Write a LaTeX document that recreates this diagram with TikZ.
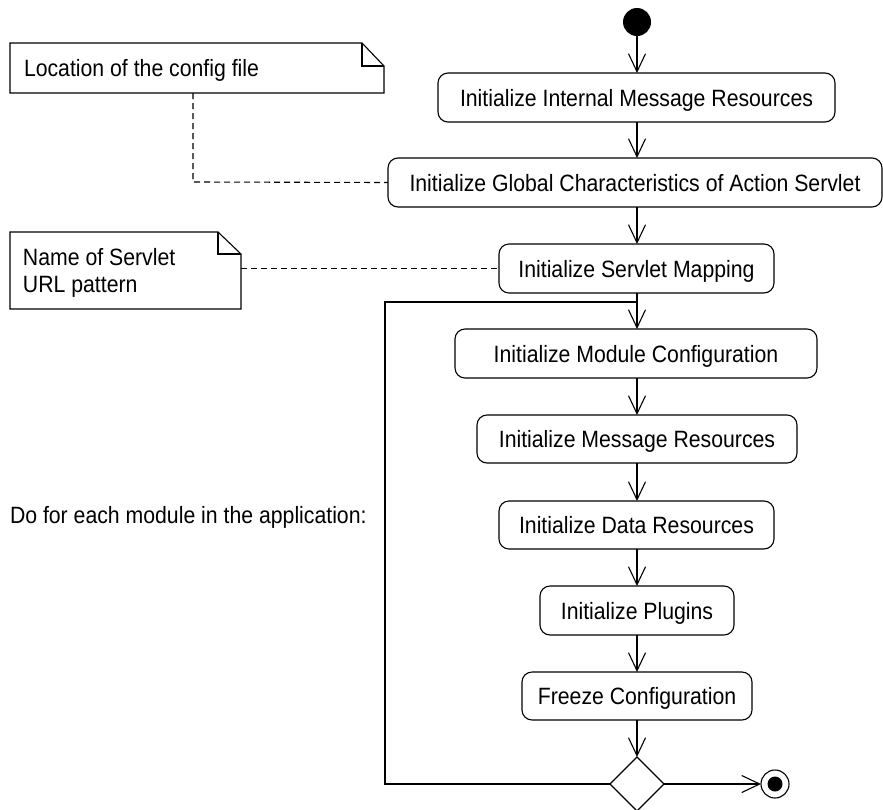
\documentclass[tikz,border=0pt]{standalone}
\usepackage{fontspec}
\setmainfont{Liberation Sans}[FakeStretch=0.9]
\usetikzlibrary{arrows.meta,shapes.geometric}
\begin{document}
\begin{tikzpicture}[x=1pt,y=-1pt,
  font=\fontsize{23.6pt}{27pt}\selectfont,
  every node/.style={inner sep=0pt, outer sep=0pt},
  act/.style={draw, rounded corners=10pt, line width=1.1pt, text height=17pt, text depth=0pt, minimum height=49pt},
  flow/.style={line width=1.1pt},
  arr/.style={flow, -{Straight Barb[length=18pt,width=17pt,line width=1.1pt]}},
  notelink/.style={line width=1.1pt, dash pattern=on 6pt off 4pt},
  noteline/.style={line width=1.1pt}
]
\useasboundingbox (0,0) rectangle (883,809);

% start
\node[circle, fill=black, minimum size=28pt] (start) at (637,22) {};

% activities
\node[act, minimum width=397pt] (b1) at (636.5,97.5) {Initialize Internal Message Resources};
\node[act, minimum width=494pt] (b2) at (635,182.5) {Initialize Global Characteristics of Action Servlet};
\node[act, minimum width=275pt] (b3) at (636.5,268.5) {Initialize Servlet Mapping};
\node[act, minimum width=362pt] (b4) at (636,353.5) {Initialize Module Configuration};
\node[act, minimum width=320pt, minimum height=48pt] (b5) at (637,439) {Initialize Message Resources};
\node[act, minimum width=275pt, minimum height=48pt] (b6) at (636.5,525) {Initialize Data Resources};
\node[act, minimum width=194pt] (b7) at (637,610.5) {Initialize Plugins};
\node[act, minimum width=230pt, minimum height=48pt] (b8) at (637,696) {Freeze Configuration};

% decision and final
\node[diamond, draw, line width=1.1pt, minimum width=54pt, minimum height=54pt] (dia) at (637,784) {};
\node[circle, draw, line width=1.1pt, minimum size=28pt,
      path picture={\fill (path picture bounding box.center) circle (7.5pt);}] (fin) at (775,784) {};

% flow arrows
\draw[arr] (start) -- (b1.north -| start);
\draw[arr] (b1.south -| start) -- (b2.north -| start);
\draw[arr] (b2.south -| start) -- (b3.north -| start);
\draw[arr] (b3.south -| start) -- (b4.north -| start);
\draw[arr] (b4.south -| start) -- (b5.north -| start);
\draw[arr] (b5.south -| start) -- (b6.north -| start);
\draw[arr] (b6.south -| start) -- (b7.north -| start);
\draw[arr] (b7.south -| start) -- (b8.north -| start);
\draw[arr] (b8.south -| start) -- (dia.north);
\draw[arr] (dia.east) -- (fin.west);

% loop back
\coordinate (lb) at (385,784);
\coordinate (lt) at (385,302);
\draw[flow] (dia.west) -- (lb) -- (lt) -- (lt -| start);

% notes
\node[minimum width=374pt, minimum height=50pt] (n1) at (197,68) {};
\draw[noteline] (n1.south west) -- (n1.north west) -- ([xshift=-22pt]n1.north east)
  -- ([yshift=-23pt]n1.north east) -- (n1.south east) -- cycle;
\draw[noteline] ([xshift=-22pt]n1.north east) |- ([yshift=-23pt]n1.north east);
\node[anchor=base west] (n1t) at (24,76) {Location of the config file};

\node[minimum width=231pt, minimum height=77pt] (n2) at (125.5,270.5) {};
\draw[noteline] (n2.south west) -- (n2.north west) -- ([xshift=-23pt]n2.north east)
  -- ([yshift=-22pt]n2.north east) -- (n2.south east) -- cycle;
\draw[noteline] ([xshift=-23pt]n2.north east) |- ([yshift=-22pt]n2.north east);
\node[anchor=base west] (n2t) at (23,265) {Name of Servlet};
\node[anchor=base west] (n2u) at (23,292) {URL pattern};

% note links
\coordinate (c1) at (193,182);
\draw[notelink] (c1 |- n1.south) -- (c1) -- (b2.west);
\draw[notelink] (n2.east |- b3.west) -- (b3.west);

% loop label
\node[anchor=base west] (lbl) at (10,523) {Do for each module in the application:};
\end{tikzpicture}
\end{document}
